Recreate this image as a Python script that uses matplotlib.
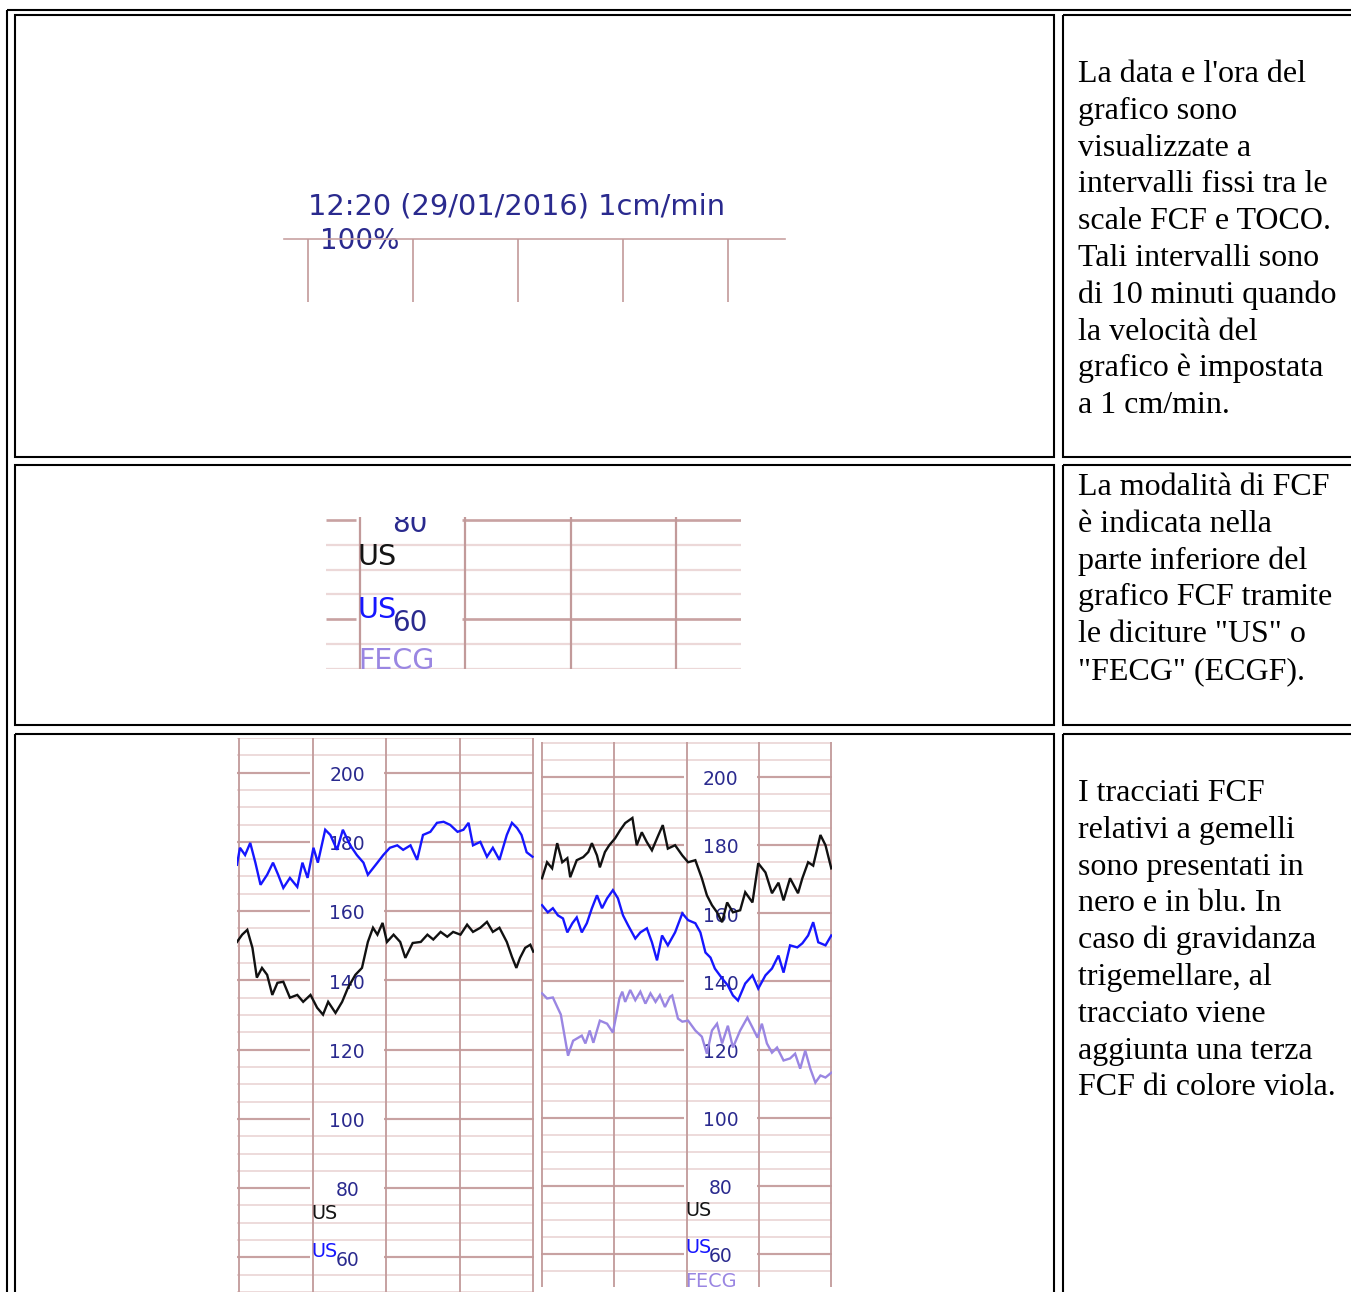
import matplotlib
matplotlib.use("Agg")
import matplotlib.pyplot as plt
from matplotlib.patches import Rectangle

W, H = 1351, 1292

# testo della colonna destra, una riga per voce
text_row1 = ["La data e l'ora del", "grafico sono", "visualizzate a", "intervalli fissi tra le",
             "scale FCF e TOCO.", "Tali intervalli sono", "di 10 minuti quando",
             "la velocità del", "grafico è impostata", "a 1 cm/min."]
text_row2 = ["La modalità di FCF", "è indicata nella", "parte inferiore del",
             "grafico FCF tramite", 'le diciture "US" o', '"FECG" (ECGF).']
text_row3 = ["I tracciati FCF", "relativi a gemelli", "sono presentati in",
             "nero e in blu. In", "caso di gravidanza", "trigemellare, al",
             "tracciato viene", "aggiunta una terza", "FCF di colore viola."]

header = "12:20 (29/01/2016) 1cm/min"
toco_label = "100%"
fhr_labels = [200, 180, 160, 140, 120, 100, 80, 60]

# tracciati FCF (minuti, bpm)
left_blue = [(-0.03, 173.4), (0.01, 178.3), (0.08, 176.2), (0.15, 179.7), (0.22, 174), (0.29, 167.6),
             (0.38, 170.5), (0.46, 174), (0.53, 170.5), (0.60, 166.7), (0.69, 169.6), (0.79, 167),
             (0.86, 174), (0.93, 169.6), (1.01, 178.3), (1.07, 174), (1.17, 183.5), (1.24, 182),
             (1.33, 177.7), (1.41, 183.5), (1.51, 179), (1.60, 176.2), (1.69, 174), (1.75, 170.5),
             (1.88, 174), (1.96, 176.2), (2.05, 178.3), (2.15, 179), (2.23, 177.7), (2.33, 179),
             (2.42, 174.8), (2.50, 182), (2.60, 182.9), (2.69, 185.5), (2.78, 185.8), (2.87, 184.9),
             (2.97, 182.9), (3.05, 183.5), (3.12, 185.5), (3.18, 179), (3.28, 180), (3.37, 175.7),
             (3.45, 178.3), (3.54, 174.8), (3.64, 182), (3.71, 185.5), (3.78, 184), (3.84, 182),
             (3.91, 177), (3.99, 175.7)]
left_black = [(-0.03, 151.1), (0.04, 153.2), (0.11, 154.6), (0.18, 149.4), (0.24, 140.8), (0.31, 143.6),
              (0.38, 141.6), (0.45, 135.8), (0.52, 139.3), (0.60, 139.6), (0.69, 135), (0.79, 135.8),
              (0.87, 133.8), (0.97, 135.8), (1.06, 132.1), (1.14, 130.1), (1.21, 133.8), (1.31, 130.6),
              (1.40, 133.8), (1.48, 137.9), (1.58, 141.6), (1.67, 143.6), (1.75, 151.1), (1.82, 155.2),
              (1.88, 153.2), (1.95, 156.6), (2.01, 151.1), (2.10, 153.2), (2.19, 151.1), (2.26, 146.5),
              (2.36, 150.8), (2.47, 151.1), (2.56, 153.2), (2.64, 151.8), (2.74, 154), (2.83, 152.6),
              (2.91, 154), (3.01, 153.2), (3.10, 156.1), (3.18, 154), (3.28, 155.2), (3.37, 156.9),
              (3.45, 154), (3.54, 155.2), (3.64, 151.1), (3.71, 146.8), (3.77, 143.6), (3.82, 146.5),
              (3.89, 149.4), (3.96, 150.3), (4.00, 148.3)]
right_black = [(0, 170.3), (0.07, 175), (0.14, 173.2), (0.21, 180.6), (0.28, 175), (0.35, 176.2),
               (0.39, 170.6), (0.48, 175.6), (0.57, 176.5), (0.64, 178), (0.69, 180.6), (0.76, 177),
               (0.80, 173.5), (0.87, 178), (0.93, 180), (1.01, 182), (1.08, 184.4), (1.15, 186.5),
               (1.25, 188), (1.31, 180), (1.38, 183.8), (1.45, 180.9), (1.52, 178.5), (1.61, 183),
               (1.67, 185.9), (1.74, 179), (1.84, 180), (1.94, 177), (2.02, 175), (2.12, 175.6),
               (2.21, 170.3), (2.28, 165.3), (2.35, 162.4), (2.42, 160.3), (2.49, 157.4), (2.56, 163.2),
               (2.64, 160.3), (2.74, 160.9), (2.81, 166.2), (2.91, 163.2), (2.99, 174.7), (3.09, 172),
               (3.18, 165.9), (3.27, 169), (3.34, 163.8), (3.43, 170.3), (3.54, 165.9), (3.60, 170.3),
               (3.68, 175), (3.75, 174), (3.85, 183), (3.92, 180), (4.00, 173.2)]
right_blue = [(0, 162.4), (0.08, 160.3), (0.15, 161.5), (0.22, 159.4), (0.29, 158.5), (0.35, 154.4),
              (0.42, 157.1), (0.48, 158.8), (0.55, 154.4), (0.62, 157.1), (0.69, 161.5), (0.76, 165.3),
              (0.83, 161.5), (0.90, 164.4), (0.98, 166.8), (1.05, 164.4), (1.12, 159.4), (1.19, 156.5),
              (1.29, 152.6), (1.36, 154.4), (1.45, 155.6), (1.52, 151.5), (1.59, 146.2), (1.66, 153.5),
              (1.74, 150.6), (1.84, 154.4), (1.94, 160), (2.02, 158), (2.12, 157.1), (2.19, 154.4),
              (2.26, 148.5), (2.33, 147), (2.39, 143.8), (2.49, 140.9), (2.57, 138.8), (2.64, 135.9),
              (2.71, 134.4), (2.81, 139.4), (2.91, 141.8), (2.99, 137.9), (3.09, 141.8), (3.18, 143.8),
              (3.27, 147.6), (3.34, 142.6), (3.43, 150.6), (3.53, 150), (3.60, 151.2), (3.68, 153.5),
              (3.75, 157.4), (3.82, 151.5), (3.92, 150.6), (4.00, 153.5)]
right_purple = [(0, 136.5), (0.07, 135), (0.15, 135.3), (0.22, 132.1), (0.26, 130.3), (0.36, 118.2),
                (0.43, 122.6), (0.55, 124.1), (0.60, 121.8), (0.66, 125.6), (0.71, 122), (0.80, 128.5),
                (0.90, 127.6), (0.98, 125), (1.04, 131.5), (1.07, 135), (1.11, 137), (1.15, 134),
                (1.22, 137.5), (1.29, 134.5), (1.36, 137), (1.43, 133.5), (1.50, 136.5), (1.57, 134),
                (1.63, 136), (1.70, 132.5), (1.77, 135.5), (1.80, 135.9), (1.88, 129.1), (1.94, 128.2),
                (2.02, 128.5), (2.12, 125.6), (2.21, 123.8), (2.28, 118.8), (2.35, 125.6), (2.42, 127.6),
                (2.49, 121.8), (2.57, 127), (2.64, 120.6), (2.74, 125.6), (2.84, 129.4), (2.91, 126.5),
                (2.98, 123.5), (3.04, 127.6), (3.11, 121.8), (3.18, 119.1), (3.25, 120.6), (3.34, 116.8),
                (3.43, 117.4), (3.50, 118.8), (3.57, 114.4), (3.64, 119.7), (3.71, 114.4), (3.78, 110.3),
                (3.85, 112.4), (3.92, 111.8), (4.00, 113.2)]

NAVY = '#2a2a8e'
BLUE = '#1616ff'
PURPLE = '#9a86e2'
MINOR = '#ecd8d8'
MAJOR = '#c8a2a2'
VLINE = '#c29a9a'

fig = plt.figure(figsize=(W / 100, H / 100), dpi=100)
page = fig.add_axes([0, 0, 1, 1])
page.set_xlim(0, W)
page.set_ylim(H, 0)
page.axis('off')

# bordi della tabella
page.add_patch(Rectangle((7, 10), 1400, 1400, fill=False, ec='black', lw=1.5))
cells = [(15, 15, 1054, 457), (1063, 15, 1500, 457),
         (15, 465, 1054, 725), (1063, 465, 1500, 725),
         (15, 734, 1054, 1500), (1063, 734, 1500, 1500)]
for x0, y0, x1, y1 in cells:
    page.add_patch(Rectangle((x0, y0), x1 - x0, y1 - y0, fill=False, ec='black', lw=1.5))

serif = ['Liberation Serif', 'DejaVu Serif']
for lines, base in [(text_row1, 82), (text_row2, 495), (text_row3, 801)]:
    for i, s in enumerate(lines):
        page.text(1078, base + 36.8 * i, s, fontsize=23, family=serif, va='baseline', ha='left')


def px_axes(x0, y0, x1, y1):
    a = fig.add_axes([x0 / W, 1 - y1 / H, (x1 - x0) / W, (y1 - y0) / H])
    a.axis('off')
    return a


# riga 1: intestazione TOCO
ax1 = px_axes(284, 239, 785, 302)
ax1.set_xlim(-0.229, 4.543)
ax1.set_ylim(85, 100)
ax1.axhline(100, color=MAJOR, lw=1.2, clip_on=False)
ax1.vlines(range(5), 85, 100, color=VLINE, lw=1.2)
page.text(308, 215, header, fontsize=20.8, color=NAVY, va='baseline', ha='left')
page.text(320, 249, toco_label, fontsize=20, color=NAVY, va='baseline', ha='left')


def fhr_strip(ax, lo, hi, ncol, col, fs, lw):
    x0, x1 = ax.get_xlim()
    for v in range(lo, hi + 1, 5):
        if v % 20 == 0 and v >= 60:
            ax.hlines(v, x0, col - 0.04, color=MAJOR, lw=lw * 1.2)
            ax.hlines(v, col + 0.97, x1, color=MAJOR, lw=lw * 1.2)
        else:
            ax.hlines(v, x0, x1, color=MINOR, lw=lw)
    ax.vlines(range(ncol + 1), lo, hi + 10, color=VLINE, lw=lw)
    for v in fhr_labels:
        ax.text(col + 0.47, v - 2.4, str(v), fontsize=fs, color=NAVY, ha='center',
                va='baseline', clip_on=True, zorder=2)
    ax.text(col - 0.02, 71, 'US', fontsize=fs * 1.03, color='#151515', ha='left', va='baseline',
            clip_on=True, zorder=2)
    ax.text(col - 0.02, 60.2, 'US', fontsize=fs * 1.03, color=BLUE, ha='left', va='baseline',
            clip_on=True, zorder=2)


def trace(ax, pts, color):
    ax.plot([p[0] for p in pts], [p[1] for p in pts], color=color, lw=1.7, zorder=3,
            solid_joinstyle='miter')


# riga 2: dettaglio modalità
ax2 = px_axes(326, 517, 741, 669)
ax2.set_xlim(-0.323, 3.618)
ax2.set_ylim(49.9, 80.7)
fhr_strip(ax2, 50, 80, 3, 0, 20, 1.6)
ax2.text(-0.02, 50.0, 'FECG', fontsize=20.5, color=PURPLE, ha='left', va='baseline', zorder=2)

# riga 3: gemelli
ax3 = px_axes(237, 738, 534, 1292)
ax3.set_xlim(-0.03, 4.01)
ax3.set_ylim(50, 210)
fhr_strip(ax3, 50, 210, 4, 1, 13.5, 1.3)
trace(ax3, left_blue, BLUE)
trace(ax3, left_black, '#111111')

# riga 3: trigemini
ax4 = px_axes(541, 742, 832, 1287)
ax4.set_xlim(-0.014, 4.01)
ax4.set_ylim(50.3, 210.3)
fhr_strip(ax4, 50, 210, 4, 2, 13.5, 1.3)
ax4.text(1.98, 50.3, 'FECG', fontsize=13.9, color=PURPLE, ha='left', va='baseline', zorder=2)
trace(ax4, right_purple, PURPLE)
trace(ax4, right_blue, BLUE)
trace(ax4, right_black, '#111111')

fig.savefig('out.png', dpi=100)
